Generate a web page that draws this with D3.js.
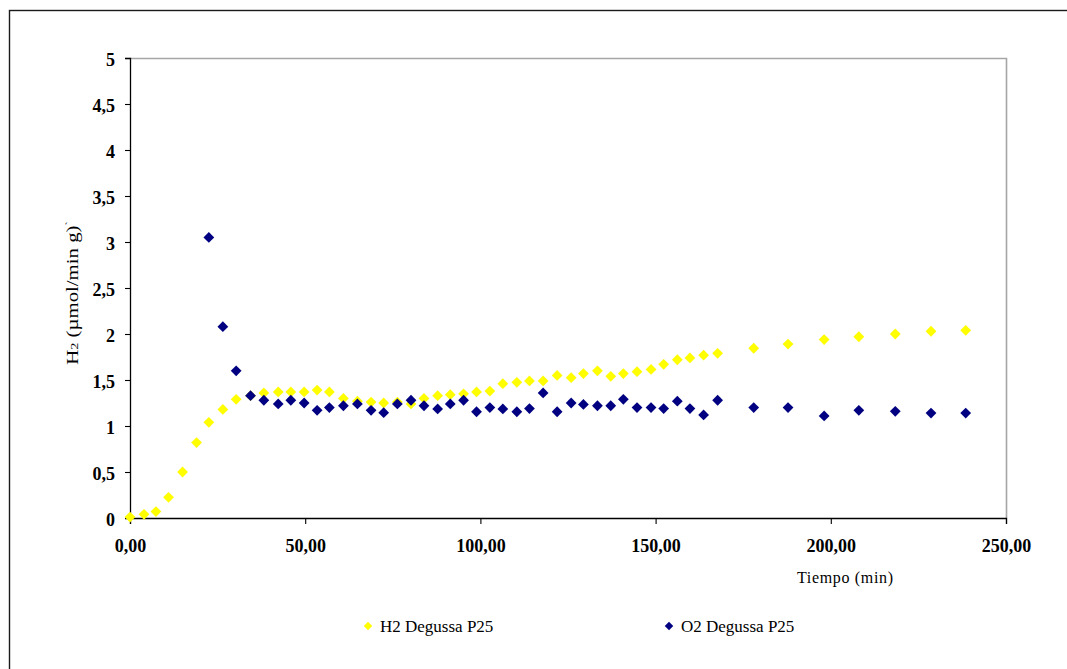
<!DOCTYPE html>
<html>
<head>
<meta charset="utf-8">
<script src="https://cdn.jsdelivr.net/npm/d3@7"></script>
<style>
  html, body { margin: 0; padding: 0; background: #fff; }
  svg { display: block; }
  text { font-family: "Liberation Serif", "Times New Roman", serif; fill: #000; }
</style>
</head>
<body>
<svg id="chart" width="1067" height="669"></svg>
<script>
// Time (min) of each sample
const tiempo = [0, 4.0, 7.4, 11.0, 15.0, 19.0, 22.5, 26.5, 30.3, 34.4, 38.2, 42.3, 45.9, 49.7,
  53.4, 56.9, 60.9, 64.9, 68.8, 72.4, 76.3, 80.2, 83.9, 87.8, 91.4, 95.2, 98.9, 102.7, 106.4,
  110.4, 114.0, 117.9, 121.9, 125.9, 129.4, 133.4, 137.2, 140.8, 144.7, 148.7, 152.3, 156.2,
  159.8, 163.7, 167.7, 178.0, 187.8, 198.1, 208.0, 218.4, 228.6, 238.5];

// H2 evolution rate (µmol/min g)
const h2 = [0.01, 0.04, 0.07, 0.225, 0.50, 0.82, 1.04, 1.18, 1.29, 1.33, 1.36, 1.37, 1.37, 1.37,
  1.39, 1.37, 1.30, 1.27, 1.26, 1.25, 1.26, 1.24, 1.30, 1.33, 1.34, 1.35, 1.37, 1.38, 1.46,
  1.475, 1.49, 1.49, 1.55, 1.525, 1.57, 1.60, 1.54, 1.57, 1.59, 1.615, 1.67, 1.72,
  1.74, 1.77, 1.79, 1.845, 1.89, 1.94, 1.97, 2.00, 2.03, 2.04];

// O2 evolution rate (µmol/min g); no reading for the first six samples
const o2 = [null, null, null, null, null, null, 3.05, 2.08, 1.60, 1.33, 1.28, 1.24, 1.28, 1.25,
  1.17, 1.20, 1.22, 1.24, 1.17, 1.145, 1.24, 1.28, 1.22, 1.185, 1.24, 1.28, 1.155, 1.20, 1.185,
  1.155, 1.19, 1.36, 1.155, 1.25, 1.235, 1.22, 1.22, 1.29, 1.20, 1.20, 1.19, 1.27,
  1.19, 1.12, 1.28, 1.20, 1.20, 1.11, 1.17, 1.16, 1.14, 1.14];

const xTicks = [0, 50, 100, 150, 200, 250];
const yTicks = [0, 0.5, 1, 1.5, 2, 2.5, 3, 3.5, 4, 4.5, 5];

const seriesNames = ["H2 Degussa P25", "O2 Degussa P25"];
const seriesColors = ["#ffff00", "#000080"];

const locale = d3.formatLocale({ decimal: ",", thousands: ".", grouping: [3], currency: ["", ""] });
const fmtX = locale.format(".2f");
const fmtY = v => locale.format("")(v);

const svg = d3.select("#chart");

// outer chart frame (extends past the visible canvas on right and bottom)
svg.append("rect")
  .attr("x", 9.5).attr("y", 10.5)
  .attr("width", 1080).attr("height", 680)
  .attr("fill", "#fff").attr("stroke", "#1a1a1a").attr("stroke-width", 1.4);

const plot = { left: 130, top: 58, right: 1006, bottom: 518 };

const x = d3.scaleLinear().domain([0, 250]).range([plot.left, plot.right]);
const y = d3.scaleLinear().domain([0, 5]).range([plot.bottom, plot.top]);

// plot area border (top and right, grey)
svg.append("path")
  .attr("d", `M${plot.left},${plot.top + 0.5}H${plot.right + 0.5}V${plot.bottom}`)
  .attr("fill", "none").attr("stroke", "#a6a6a6").attr("stroke-width", 1.6);

// Y axis
const yAxis = svg.append("g")
  .attr("transform", `translate(${plot.left},0)`)
  .call(d3.axisLeft(y).tickValues(yTicks).tickFormat(fmtY).tickSize(5).tickPadding(10));
yAxis.select(".domain").attr("stroke", "#000").attr("stroke-width", 1.3);
yAxis.selectAll(".tick line").attr("stroke", "#000").attr("stroke-width", 1.1);
yAxis.selectAll(".tick text")
  .attr("font-family", "Liberation Serif, serif")
  .attr("font-size", 18).attr("font-weight", "bold").attr("fill", "#000")
  .attr("dy", "0.42em");

// X axis
const xAxis = svg.append("g")
  .attr("transform", `translate(0,${plot.bottom})`)
  .call(d3.axisBottom(x).tickValues(xTicks).tickFormat(fmtX).tickSize(6).tickPadding(15));
xAxis.select(".domain").attr("stroke", "#000").attr("stroke-width", 1.3);
xAxis.selectAll(".tick line").attr("stroke", "#000").attr("stroke-width", 1.1);
xAxis.selectAll(".tick text")
  .attr("font-family", "Liberation Serif, serif")
  .attr("font-size", 18).attr("font-weight", "bold").attr("fill", "#000");

// axis titles
svg.append("text")
  .attr("x", 845).attr("y", 583)
  .attr("text-anchor", "middle")
  .attr("font-size", 16)
  .attr("textLength", 96).attr("lengthAdjust", "spacing")
  .text("Tiempo (min)");

const yTitle = svg.append("text")
  .attr("transform", "translate(78,293) rotate(-90) scale(1.3,1)")
  .attr("text-anchor", "middle")
  .attr("font-size", 16);
yTitle.append("tspan").text("H");
yTitle.append("tspan").attr("font-size", 11).text("2");
yTitle.append("tspan").text(" (µmol/min g)");
yTitle.append("tspan").attr("font-size", 10).attr("dy", -5).text("`");

// markers: diamond = square symbol turned 45°
const diamond = d3.symbol().type(d3.symbolSquare).size(58);
const diamondSmall = d3.symbol().type(d3.symbolSquare).size(36);

const seriesData = [h2, o2];
seriesData.forEach((vals, i) => {
  const pts = tiempo.map((t, k) => ({ t, v: vals[k] })).filter(d => d.v != null);
  svg.append("g").selectAll("path")
    .data(pts).join("path")
    .attr("d", diamond)
    .attr("transform", d => `translate(${x(d.t)},${y(d.v)}) rotate(45)`)
    .attr("fill", seriesColors[i]);
});

// legend
const legendX = [368, 669];
seriesNames.forEach((name, i) => {
  const g = svg.append("g").attr("transform", `translate(${legendX[i]},626)`);
  g.append("path").attr("d", diamondSmall).attr("transform", "rotate(45)").attr("fill", seriesColors[i]);
  g.append("text").attr("x", 12).attr("y", 6).attr("font-size", 17).text(name);
});
</script>
</body>
</html>
